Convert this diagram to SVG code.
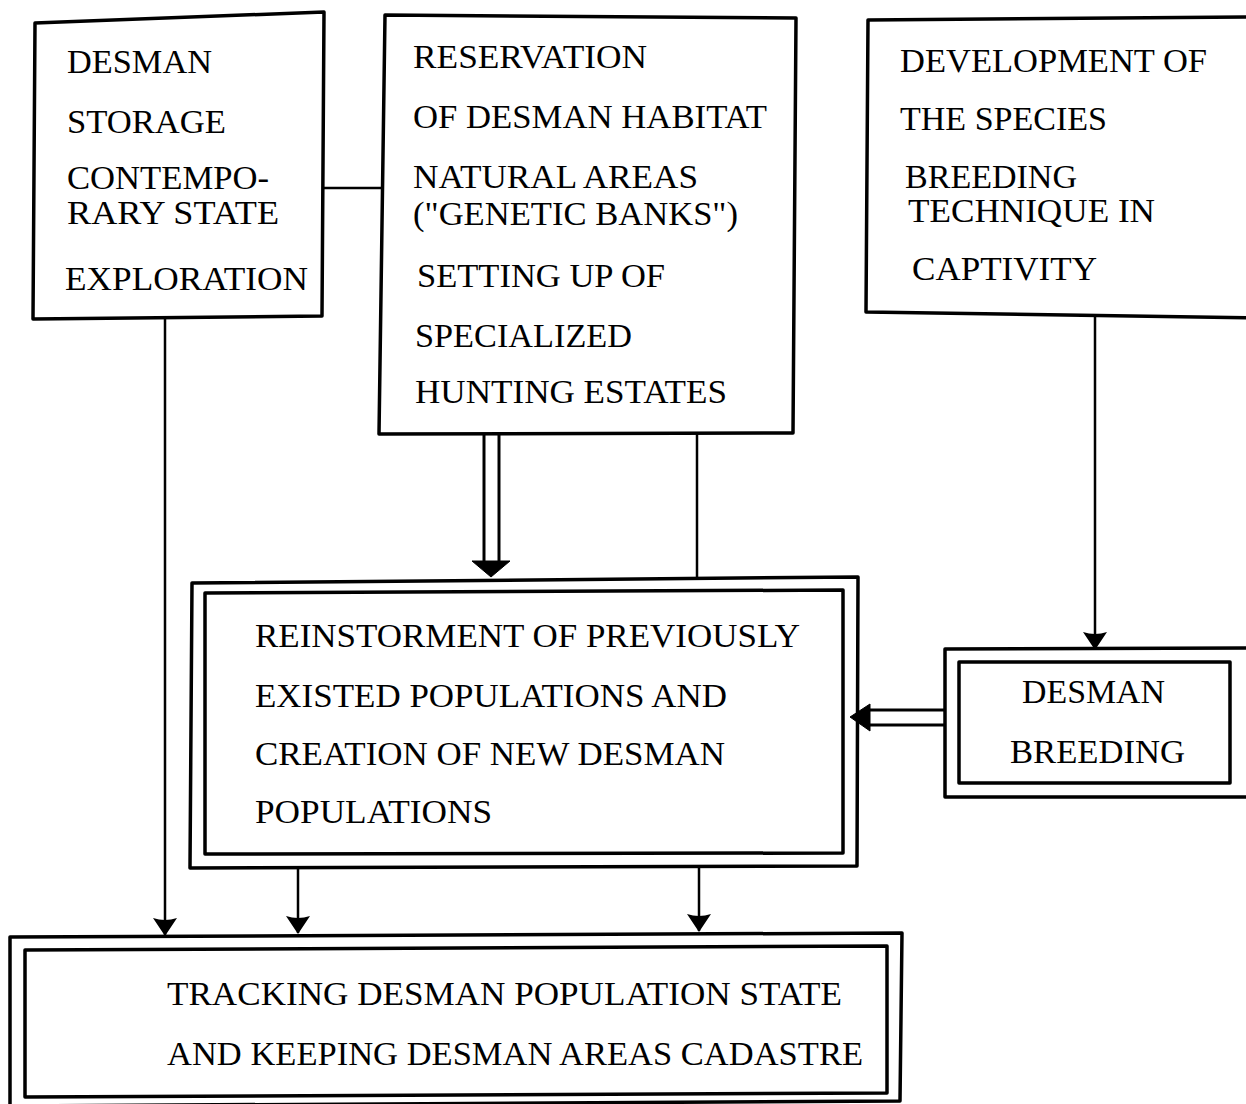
<svg xmlns="http://www.w3.org/2000/svg" width="1246" height="1104" viewBox="0 0 1246 1104">
<style>
.box{fill:none;stroke:#000;stroke-width:3.5;stroke-linejoin:round}
.ln{fill:none;stroke:#000;stroke-width:2.5}
.dl{fill:none;stroke:#000;stroke-width:3}
.head{fill:#000;stroke:#000;stroke-width:1;stroke-linejoin:round}
.t{font-family:"Liberation Serif","Times New Roman",serif;font-size:34px;fill:#000}
</style>
<defs>
<marker id="arr" viewBox="0 0 18 26" refX="17" refY="13" markerWidth="18" markerHeight="26" markerUnits="userSpaceOnUse" orient="auto">
<path d="M0,1 Q4,13 0,25 L18,13 Z" fill="#000"/>
</marker>
</defs>
<rect width="1246" height="1104" fill="#fff"/>

<g id="connectors">
<line class="ln" x1="322" y1="188" x2="384" y2="188"/>
<line class="ln" x1="165" y1="318" x2="165" y2="935" marker-end="url(#arr)"/>
<line class="ln" x1="697" y1="434" x2="697" y2="578"/>
<line class="dl" x1="484" y1="434" x2="484" y2="562"/>
<line class="dl" x1="499" y1="434" x2="499" y2="562"/>
<path class="head" d="M472,561 L510,561 L491,577 Z"/>
<line class="ln" x1="1095" y1="316" x2="1095" y2="649" marker-end="url(#arr)"/>
<line class="dl" x1="945" y1="710" x2="868" y2="710"/>
<line class="dl" x1="945" y1="725" x2="868" y2="725"/>
<path class="head" d="M870,704 L870,731 L850,717 Z"/>
<line class="ln" x1="298" y1="867" x2="298" y2="933" marker-end="url(#arr)"/>
<line class="ln" x1="699" y1="866" x2="699" y2="931" marker-end="url(#arr)"/>
</g>

<g id="node-storage">
<path class="box" d="M35,23 L324,12 L322,316 L33,319 Z"/>
<text class="t" x="67" y="73" textLength="145" lengthAdjust="spacingAndGlyphs">DESMAN</text>
<text class="t" x="67" y="133" textLength="159" lengthAdjust="spacingAndGlyphs">STORAGE</text>
<text class="t" x="67" y="189" textLength="202" lengthAdjust="spacingAndGlyphs">CONTEMPO-</text>
<text class="t" x="67" y="224" textLength="212" lengthAdjust="spacingAndGlyphs">RARY STATE</text>
<text class="t" x="65" y="290" textLength="243" lengthAdjust="spacingAndGlyphs">EXPLORATION</text>
</g>

<g id="node-reservation">
<path class="box" d="M385,15 L796,18 L793,433 L379,434 Z"/>
<text class="t" x="413" y="68" textLength="234" lengthAdjust="spacingAndGlyphs">RESERVATION</text>
<text class="t" x="413" y="128" textLength="354" lengthAdjust="spacingAndGlyphs">OF DESMAN HABITAT</text>
<text class="t" x="413" y="188" textLength="285" lengthAdjust="spacingAndGlyphs">NATURAL AREAS</text>
<text class="t" x="413" y="225" textLength="325" lengthAdjust="spacingAndGlyphs">("GENETIC BANKS")</text>
<text class="t" x="417" y="287" textLength="248" lengthAdjust="spacingAndGlyphs">SETTING UP OF</text>
<text class="t" x="415" y="347" textLength="217" lengthAdjust="spacingAndGlyphs">SPECIALIZED</text>
<text class="t" x="415" y="403" textLength="312" lengthAdjust="spacingAndGlyphs">HUNTING ESTATES</text>
</g>

<g id="node-development">
<path class="box" d="M868,20 L1262,17 L1262,318 L866,312 Z"/>
<text class="t" x="900" y="72" textLength="307" lengthAdjust="spacingAndGlyphs">DEVELOPMENT OF</text>
<text class="t" x="900" y="130" textLength="207" lengthAdjust="spacingAndGlyphs">THE SPECIES</text>
<text class="t" x="905" y="188" textLength="172" lengthAdjust="spacingAndGlyphs">BREEDING</text>
<text class="t" x="908" y="222" textLength="247" lengthAdjust="spacingAndGlyphs">TECHNIQUE IN</text>
<text class="t" x="912" y="280" textLength="185" lengthAdjust="spacingAndGlyphs">CAPTIVITY</text>
</g>

<g id="node-reinstorment">
<path class="box" d="M192,583 L858,577 L857,866 L190,868 Z"/>
<path class="box" d="M205,593 L843,590 L843,853 L205,854 Z"/>
<text class="t" x="255" y="647" textLength="545" lengthAdjust="spacingAndGlyphs">REINSTORMENT OF PREVIOUSLY</text>
<text class="t" x="255" y="707" textLength="472" lengthAdjust="spacingAndGlyphs">EXISTED POPULATIONS AND</text>
<text class="t" x="255" y="765" textLength="470" lengthAdjust="spacingAndGlyphs">CREATION OF NEW DESMAN</text>
<text class="t" x="255" y="823" textLength="237" lengthAdjust="spacingAndGlyphs">POPULATIONS</text>
</g>

<g id="node-breeding">
<path class="box" d="M945,649 L1262,648 L1262,797 L945,797 Z"/>
<path class="box" d="M959,662 L1230,662 L1230,783 L959,783 Z"/>
<text class="t" x="1022" y="703" textLength="143" lengthAdjust="spacingAndGlyphs">DESMAN</text>
<text class="t" x="1010" y="763" textLength="175" lengthAdjust="spacingAndGlyphs">BREEDING</text>
</g>

<g id="node-tracking">
<path class="box" d="M10,937 L902,933 L900,1101 L10,1106 Z"/>
<path class="box" d="M25,950 L887,946 L887,1093 L25,1097 Z"/>
<text class="t" x="167" y="1005" textLength="675" lengthAdjust="spacingAndGlyphs">TRACKING DESMAN POPULATION STATE</text>
<text class="t" x="167" y="1065" textLength="696" lengthAdjust="spacingAndGlyphs">AND KEEPING DESMAN AREAS CADASTRE</text>
</g>
</svg>
